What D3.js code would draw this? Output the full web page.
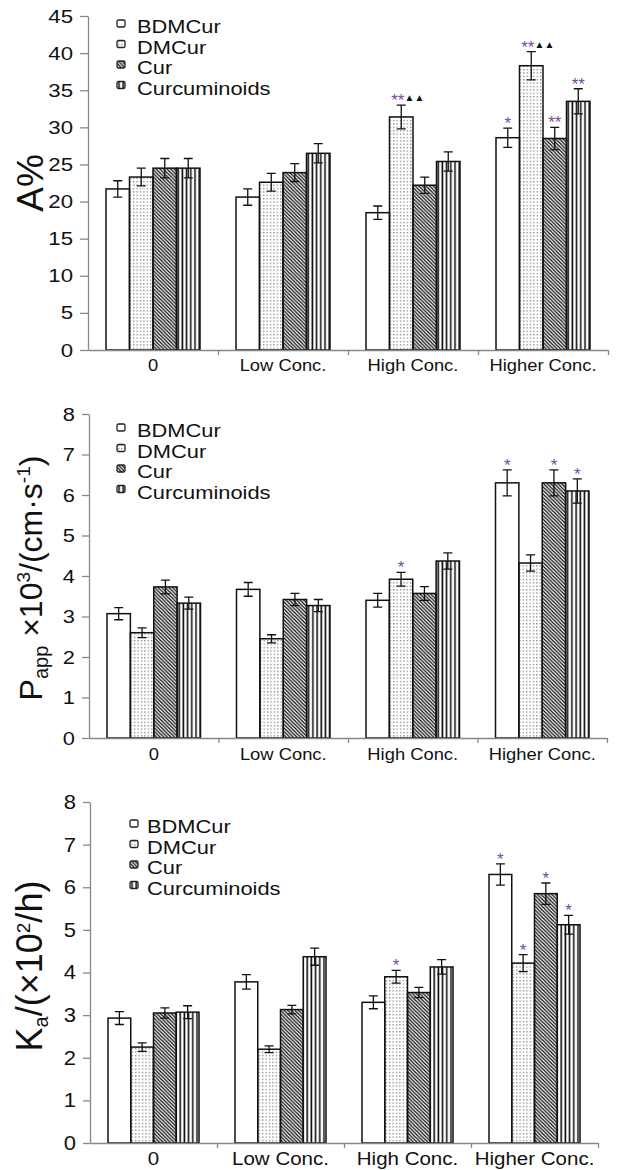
<!DOCTYPE html>
<html>
<head>
<meta charset="utf-8">
<script src="https://cdn.jsdelivr.net/npm/d3@7"></script>
<style>
  body { margin: 0; background: #fff; }
  svg { font-family: "Liberation Sans", Arial, sans-serif; }
</style>
</head>
<body>
<div id="chart"></div>
<script>
// categories and series
var categories = ["0", "Low Conc.", "High Conc.", "Higher Conc."];
var seriesNames = ["BDMCur", "DMCur", "Cur", "Curcuminoids"];

// panel 1: A%  (rows = categories, cols = series)
var aMean = [[21.7, 23.3, 24.5, 24.5], [20.6, 22.6, 23.9, 26.5], [18.5, 31.4, 22.2, 25.4], [28.6, 38.3, 28.5, 33.5]];
var aErr  = [[1.1, 1.2, 1.3, 1.3], [1.1, 1.2, 1.2, 1.3], [0.9, 1.6, 1.1, 1.3], [1.3, 1.9, 1.5, 1.7]];
var aSig  = [["", "", "", ""], ["", "", "", ""], ["", "**▲▲", "", ""], ["*", "**▲▲", "**", "**"]];
var aTicks = [0, 5, 10, 15, 20, 25, 30, 35, 40, 45];

// panel 2: Papp
var pMean = [[3.07, 2.6, 3.73, 3.33], [3.67, 2.45, 3.42, 3.27], [3.4, 3.92, 3.57, 4.37], [6.3, 4.32, 6.3, 6.1]];
var pErr  = [[0.15, 0.12, 0.17, 0.15], [0.17, 0.1, 0.15, 0.15], [0.17, 0.17, 0.17, 0.2], [0.32, 0.2, 0.32, 0.3]];
var pSig  = [["", "", "", ""], ["", "", "", ""], ["", "*", "", ""], ["*", "", "*", "*"]];
var pTicks = [0, 1, 2, 3, 4, 5, 6, 7, 8];

// panel 3: Ka
var kMean = [[2.93, 2.25, 3.05, 3.07], [3.78, 2.2, 3.13, 4.37], [3.3, 3.9, 3.53, 4.13], [6.3, 4.22, 5.85, 5.12]];
var kErr  = [[0.15, 0.1, 0.12, 0.15], [0.17, 0.08, 0.1, 0.2], [0.15, 0.15, 0.12, 0.17], [0.25, 0.2, 0.25, 0.22]];
var kSig  = [["", "", "", ""], ["", "", "", ""], ["", "*", "", ""], ["*", "*", "*", "*"]];
var kTicks = [0, 1, 2, 3, 4, 5, 6, 7, 8];

var svg = d3.select("#chart").append("svg")
    .attr("width", 617)
    .attr("height", 1170);

// fill patterns
var defs = svg.append("defs");

var dots = defs.append("pattern").attr("id", "dots")
    .attr("patternUnits", "userSpaceOnUse").attr("width", 3.4).attr("height", 3.4);
dots.append("rect").attr("x", 1).attr("y", 1).attr("width", 1.1).attr("height", 1.1).attr("fill", "#555");

var hatch = defs.append("pattern").attr("id", "hatch")
    .attr("patternUnits", "userSpaceOnUse").attr("width", 3.6).attr("height", 3.6);
hatch.append("path")
    .attr("d", "M-1,-1L4.6,4.6M-1,2.6L1,4.6M2.6,-1L4.6,1")
    .attr("stroke", "#111").attr("stroke-width", 1.3);

var vstripe = defs.append("pattern").attr("id", "vstripe")
    .attr("patternUnits", "userSpaceOnUse").attr("width", 4.2).attr("height", 4);
vstripe.append("rect").attr("x", 1.2).attr("y", 0).attr("width", 1.6).attr("height", 4).attr("fill", "#111");

var fills = ["#fff", "url(#dots)", "url(#hatch)", "url(#vstripe)"];

// the original figure is a little stretched sideways: widen text to match
function stretch(sel, s) {
    sel.each(function() {
        var t = d3.select(this);
        var x = +t.attr("x") || 0;
        t.attr("x", x / s).attr("transform", "scale(" + s + ",1)");
    });
}

function drawPanel(opt) {
    var g = svg.append("g");

    var x = d3.scaleBand().domain(categories).range([opt.x0, opt.x1]);
    var xs = d3.scaleBand().domain(seriesNames)
        .range([opt.inset, x.bandwidth() - opt.inset]);
    var y = d3.scaleLinear().domain([0, opt.max]).range([opt.yBottom, opt.yTop]);

    // bars
    var groups = g.selectAll(".grp")
        .data(opt.mean)
        .enter().append("g")
        .attr("transform", function(d, i) { return "translate(" + x(categories[i]) + ",0)"; });

    groups.each(function(row, ci) {
        var grp = d3.select(this);
        row.forEach(function(v, si) {
            var bx = xs(seriesNames[si]);
            var bw = xs.bandwidth();
            grp.append("rect")
                .attr("x", bx)
                .attr("y", y(v))
                .attr("width", bw)
                .attr("height", y(0) - y(v))
                .attr("fill", fills[si])
                .attr("stroke", "#111")
                .attr("stroke-width", 1.5);

            // error bar
            var e = opt.err[ci][si];
            var cx = bx + bw / 2;
            grp.append("path")
                .attr("d", "M" + cx + "," + y(v + e) + "V" + y(v - e) +
                    "M" + (cx - 4.5) + "," + y(v + e) + "H" + (cx + 4.5) +
                    "M" + (cx - 4.5) + "," + y(v - e) + "H" + (cx + 4.5))
                .attr("stroke", "#111")
                .attr("stroke-width", 1.3)
                .attr("fill", "none");

            // significance marks
            var s = opt.sig[ci][si];
            if (s) {
                var stars = s.replace(/▲/g, "");
                var tri = s.replace(/\*/g, "");
                var t = grp.append("text")
                    .attr("x", cx)
                    .attr("y", y(v + e) + 1)
                    .attr("text-anchor", tri ? "start" : "middle")
                    .attr("dx", tri ? -10 : 0)
                    .style("font-size", "17px");
                t.append("tspan").attr("fill", "#7a4a9a").text(stars);
                if (tri) t.append("tspan").attr("fill", "#111").style("font-size", "10px").attr("dy", -5).text(tri);
            }
        });
    });

    // y axis
    var yAxis = g.append("g")
        .attr("class", "y axis")
        .attr("transform", "translate(" + opt.x0 + ",0)")
        .call(d3.axisLeft(y).tickValues(opt.ticks).tickSize(opt.tickLen).tickPadding(opt.tickPad).tickSizeOuter(0));

    // x axis: boundary ticks
    var xb = d3.scaleLinear().domain([0, 4]).range([opt.x0, opt.x1]);
    g.append("g")
        .attr("class", "x axis")
        .attr("transform", "translate(0," + opt.yBottom + ")")
        .call(d3.axisBottom(xb).tickValues([1, 2, 3, 4]).tickSize(5).tickFormat("").tickSizeOuter(0));

    // x labels
    var xl = g.selectAll(".xlab")
        .data(categories)
        .enter().append("g")
        .attr("transform", function(d) { return "translate(" + (x(d) + x.bandwidth() / 2) + "," + (opt.yBottom + opt.labDy) + ")"; })
        .append("text")
        .attr("text-anchor", "middle")
        .style("font-size", opt.labSize + "px")
        .attr("fill", "#111")
        .text(function(d) { return d; });
    stretch(xl, 1.08);

    g.selectAll(".axis path, .axis line").attr("stroke", "#888").attr("stroke-width", 1.3);
    var yt = yAxis.selectAll("text").style("font-size", opt.tickSize + "px").attr("fill", "#111");
    stretch(yt, opt.tickStretch);

    // legend
    var legend = g.selectAll(".legend")
        .data(seriesNames)
        .enter().append("g")
        .attr("transform", function(d, i) { return "translate(" + opt.legX + "," + (opt.legY + i * 20.5) + ")"; });
    legend.append("rect")
        .attr("x", 0).attr("y", -6)
        .attr("width", 8).attr("height", 7)
        .attr("rx", 1.5)
        .attr("fill", function(d, i) { return fills[i]; })
        .attr("stroke", "#222").attr("stroke-width", 1.3);
    var lt = legend.append("g").attr("transform", "translate(" + opt.legGap + ",7)")
        .append("text")
        .style("font-size", "19px")
        .attr("fill", "#111")
        .text(function(d) { return d; });
    stretch(lt, 1.15);

    // y title
    var title = g.append("text")
        .attr("transform", "translate(" + opt.titleX + "," + opt.titleY + ")rotate(-90)")
        .attr("text-anchor", "middle")
        .style("font-size", opt.titleSize + "px")
        .attr("fill", "#111");
    opt.title.forEach(function(p) {
        var ts = title.append("tspan").text(p.t);
        if (p.k === "sub") ts.style("font-size", "20px").attr("baseline-shift", "-30%");
        if (p.k === "sup") ts.style("font-size", "19px").attr("baseline-shift", "65%");
    });
}

drawPanel({
    x0: 88, x1: 608, yTop: 16, yBottom: 350, max: 45, inset: 18,
    mean: aMean, err: aErr, sig: aSig, ticks: aTicks,
    labDy: 21, labSize: 17, tickSize: 19, tickStretch: 1.17, tickLen: 8, tickPad: 7,
    legX: 117, legY: 26, legGap: 20,
    titleX: 43, titleY: 183, titleSize: 37,
    title: [{t: "A%"}]
});

drawPanel({
    x0: 89, x1: 607, yTop: 414, yBottom: 738, max: 8, inset: 18,
    mean: pMean, err: pErr, sig: pSig, ticks: pTicks,
    labDy: 22, labSize: 17, tickSize: 19, tickStretch: 1.15, tickLen: 7, tickPad: 7,
    legX: 117, legY: 430, legGap: 20,
    titleX: 42, titleY: 578, titleSize: 32,
    title: [{t: "P"}, {t: "app", k: "sub"}, {t: " ×10"}, {t: "3", k: "sup"}, {t: "/(cm·s"}, {t: "-1", k: "sup"}, {t: ")"}]
});

drawPanel({
    x0: 90, x1: 598, yTop: 802, yBottom: 1143, max: 8, inset: 18,
    mean: kMean, err: kErr, sig: kSig, ticks: kTicks,
    labDy: 22, labSize: 19, tickSize: 20, tickStretch: 1.1, tickLen: 7, tickPad: 7,
    legX: 130, legY: 826, legGap: 17,
    titleX: 42, titleY: 966, titleSize: 36,
    title: [{t: "K"}, {t: "a", k: "sub"}, {t: "/(×10"}, {t: "2", k: "sup"}, {t: "/h)"}]
});
</script>
</body>
</html>
